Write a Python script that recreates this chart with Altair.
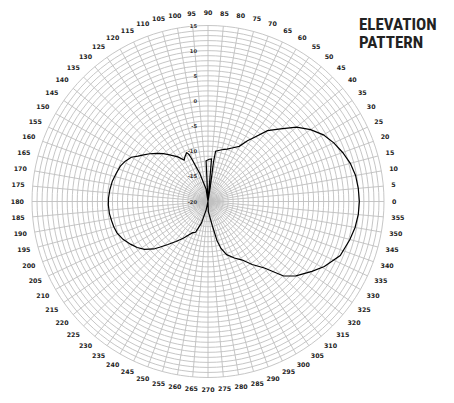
import altair as alt
import pandas as pd

# ---------------- data ----------------
# elevation pattern: angle (deg, 0 = right, counter-clockwise) and gain (dB)
ANGLES = [0, 5, 10, 15, 20, 25, 30, 35, 40, 45, 50, 55, 57, 60.5, 65, 70, 75,
          81.4, 82.1, 81, 80, 85.3, 88.3, 92.7, 95, 98.7, 106.3, 110.8, 112,
          113.5, 116.8, 120, 124, 129.4, 133, 136.9, 140.7, 144, 147, 150,
          154, 158, 163, 168, 173, 178, 182, 187, 191.3, 195, 199, 204,
          208.8, 213, 217, 221.3, 223.7, 227, 231.3, 236, 240, 244, 248, 253,
          257.5, 262, 272, 280, 283, 285.5, 289.3, 295, 300.4, 305, 310.3,
          315.4, 319.8, 326.1, 330.8, 337.8, 344.9, 350, 355.1, 360]
GAIN_DB = [10.1, 10.0, 9.8, 9.3, 8.5, 7.6, 6.5, 4.9, 3.0, 0.4, -1.6, -4.7, -5.6,
           -7.4, -8.2, -8.9, -9.35, -9.9, -12.1, -17.2, -20, -11.5, -11.6,
           -11.9, -20, -17.5, -14.2, -11.0, -9.9, -9.4, -9.9, -10.5, -9.3,
           -8.0, -7.0, -6.0, -5.0, -4.2, -3.4, -2.4, -1.7, -1.2, -0.9, -0.55,
           -0.35, -0.2, -0.17, -0.25, -0.45, -0.6, -0.85, -1.5, -2.4, -3.2,
           -4.2, -5.7, -6.9, -8.3, -9.8, -11.2, -12.3, -13.1, -13.4, -15.5,
           -18.3, -20, -18.0, -15.2, -12.0, -10.3, -8.8, -7.6, -6.5, -4.7,
           -2.65, 1.1, 2.9, 4.9, 6.5, 8.4, 9.2, 9.7, 10.0, 10.1]

RING_DB = list(range(-20, 16))             # grid circles, every 1 dB
RING_LABELS = [-20, -15, -10, -5, 0, 5, 10, 15]
SPOKE_ANGLES = list(range(0, 360, 5))      # radial grid / angle labels
ANGLE_LABELS = [str(a) for a in SPOKE_ANGLES]
CIRCLE_STEPS = list(range(0, 361, 3))
TITLE_LINES = ["ELEVATION", "PATTERN"]

DB_MIN = -20
DB_MAX = 15

# ---------------- layout ----------------
W, H = 438, 387
R_OUT = 176.0                            # outer ring radius, px
PX = R_OUT / (DB_MAX - DB_MIN)           # pixels per dB
CX, CY = 200, 193.5                      # centre inside plot area
LAB_R = 184.0                            # angle labels anchor radius, px
LAB_RY = 188.5
xs = alt.Scale(domain=[-CX / PX, (W - CX) / PX], nice=False, zero=False)
ys = alt.Scale(domain=[-(H - CY) / PX, CY / PX], nice=False, zero=False)
X = alt.X("x:Q", scale=xs, axis=None)
Y = alt.Y("y:Q", scale=ys, axis=None)

pattern_df = pd.DataFrame({"i": range(len(ANGLES)), "ang": ANGLES, "db": GAIN_DB})
ring_df = pd.DataFrame([{"ring": r, "t": t} for r in RING_DB for t in CIRCLE_STEPS])
spoke_df = pd.DataFrame({"ang": SPOKE_ANGLES})
alab_df = pd.DataFrame({"ang": SPOKE_ANGLES, "lab": ANGLE_LABELS})
rlab_df = pd.DataFrame({"db": RING_LABELS, "lab": [str(v) for v in RING_LABELS]})

rad = "datum.ang * PI / 180"
GRID = "#bfbfbf"

rings = alt.Chart(ring_df).mark_line(stroke=GRID, strokeWidth=0.9).transform_calculate(
    x=f"(datum.ring - {DB_MIN}) * cos(datum.t * PI / 180)",
    y=f"(datum.ring - {DB_MIN}) * sin(datum.t * PI / 180)",
).encode(x=X, y=Y, detail="ring:N", order="t:Q")

spokes = alt.Chart(spoke_df).mark_rule(stroke=GRID, strokeWidth=0.9).transform_calculate(
    x="0", y="0",
    x2=f"{DB_MAX - DB_MIN} * cos({rad})",
    y2=f"{DB_MAX - DB_MIN} * sin({rad})",
).encode(x=X, y=Y, x2="x2:Q", y2="y2:Q")

pattern = alt.Chart(pattern_df).mark_line(color="#000000", strokeWidth=1.2).transform_calculate(
    x=f"max(datum.db - {DB_MIN}, 0) * cos({rad})",
    y=f"max(datum.db - {DB_MIN}, 0) * sin({rad})",
).encode(x=X, y=Y, order="i:Q")

ring_labels = alt.Chart(rlab_df).mark_text(
    align="right", baseline="middle", dx=-11, font="DejaVu Sans", fontWeight="bold",
    fontSize=5.2, color="#333333",
).transform_calculate(x="0", y=f"datum.db - {DB_MIN}").encode(x=X, y=Y, text="lab:N")

angle_labels = alt.Chart(alab_df).mark_text(
    align="center", baseline="middle", font="DejaVu Sans", fontWeight="bold",
    fontSize=6.3, color="#222222",
).transform_calculate(
    x=f"({LAB_R} + length(datum.lab) * 2.2) * cos({rad}) / {PX}",
    y=f"{LAB_RY} * sin({rad}) / {PX}",
).encode(x=X, y=Y, text="lab:N")

title = alt.Chart(pd.DataFrame({"t": ["\n".join(TITLE_LINES)]})).mark_text(
    align="left", baseline="alphabetic", lineBreak="\n", lineHeight=18.3,
    font="Roboto Condensed, Liberation Sans Narrow, Roboto, sans-serif",
    fontWeight="bold", fontSize=17, color="#222222",
).encode(x=alt.value(351), y=alt.value(22), text="t:N")

chart = alt.layer(rings, spokes, pattern, ring_labels, angle_labels, title).properties(
    width=W, height=H, padding=0, autosize=alt.AutoSizeParams(type="none"),
    background="white",
).configure_view(stroke=None)

chart.save("out.html", embed_options={"renderer": "svg", "actions": False})
